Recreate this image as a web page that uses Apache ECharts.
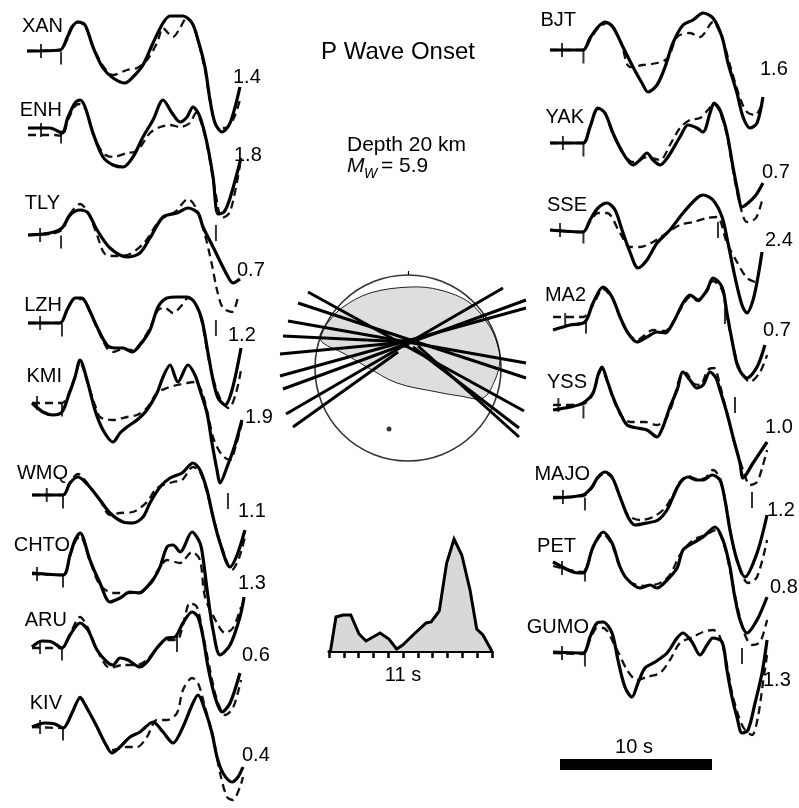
<!DOCTYPE html>
<html lang="en">
<head>
<meta charset="UTF-8">
<title>P Wave Onset</title>
<script src="https://cdn.jsdelivr.net/npm/echarts@6/dist/echarts.min.js"></script>
</head>
<body style="margin:0;background:#fff">
<div id="main" style="width:799px;height:808px;"></div>
<script>
// ---- data: [time s, relative amplitude] ----
// left column
const xanObs = [[0,0],[2.17,1],[2.63,13],[2.96,24],[3.36,29],[3.82,26],[4.34,4],[5.0,-17],[5.66,-27],[6.45,-32],[6.97,-26],[7.63,-14],[8.29,8],[8.95,28],[9.41,35],[10.26,35],[10.86,28],[11.25,11],[11.71,-16],[12.04,-49],[12.37,-72],[12.83,-81],[13.36,-72],[14.01,-36]];
const xanSyn = [[0,0],[2.17,1],[2.63,11],[2.96,23],[3.36,29],[3.82,25],[4.34,5],[5.0,-15],[5.66,-24],[6.58,-19],[7.24,-17],[7.89,-9],[8.55,8],[8.95,23],[9.28,18],[9.61,14],[10.07,23],[10.46,32],[10.86,28],[11.25,11],[11.71,-19],[12.04,-49],[12.5,-76],[13.03,-77],[13.55,-69],[14.01,-49]];
const enhObs = [[0.07,2],[1.51,2],[2.3,-3],[2.7,13],[3.16,27],[3.49,30],[3.82,23],[4.34,-3],[5.0,-27],[5.66,-35],[6.32,-37],[6.97,-27],[7.63,-7],[8.29,10],[8.95,30],[9.54,17],[10.07,8],[10.53,13],[10.92,23],[11.38,13],[11.84,-13],[12.24,-47],[12.57,-84],[12.96,-82],[13.36,-68],[14.08,-28]];
const enhSyn = [[0.07,-5],[1.84,-5],[2.3,-6],[2.7,10],[3.16,24],[3.49,26],[3.88,20],[4.34,-3],[5.0,-23],[5.66,-27],[6.58,-23],[7.24,-21],[8.09,-3],[8.75,3],[9.41,5],[10.07,3],[10.72,7],[11.12,17],[11.51,5],[11.91,-20],[12.37,-60],[12.83,-88],[13.36,-82],[14.01,-35]];
const tlyObs = [[0.07,0],[1.51,2],[2.3,7],[2.83,20],[3.49,25],[4.01,22],[4.61,5],[5.46,-13],[6.58,-22],[7.43,-18],[8.09,-3],[8.95,18],[9.87,22],[10.59,27],[11.25,22],[11.58,8],[12.24,-12],[13.16,-40],[13.55,-48],[14.01,-44]];
const tlySyn = [[0.07,0],[1.51,1],[2.3,5],[2.83,21],[3.49,31],[4.01,23],[4.61,0],[5.13,-19],[5.92,-21],[6.78,-19],[7.76,-7],[8.75,15],[9.74,23],[10.59,36],[11.12,27],[11.71,0],[12.17,-30],[12.5,-55],[12.89,-73],[13.49,-77],[13.88,-62]];
const lzhObs = [[0.07,0],[2.17,0],[2.63,13],[3.16,25],[3.62,25],[4.01,16],[4.61,-4],[5.26,-22],[5.79,-25],[6.32,-25],[6.91,-29],[7.43,-22],[8.09,-7],[8.62,16],[9.21,25],[9.87,26],[10.53,26],[11.05,20],[11.51,3],[11.91,-30],[12.24,-57],[12.57,-75],[13.03,-82],[13.49,-67],[14.08,-25]];
const lzhSyn = [[0.07,0],[2.17,0],[2.63,12],[3.16,24],[3.62,24],[4.01,15],[4.61,-5],[5.26,-25],[5.66,-29],[6.32,-26],[6.91,-27],[7.43,-21],[8.09,-5],[8.62,13],[9.08,15],[9.61,10],[10.2,18],[10.59,25],[11.05,20],[11.51,1],[11.91,-33],[12.37,-62],[12.83,-79],[13.29,-85],[13.75,-70],[14.08,-47]];
const kmiObs = [[0.33,0],[1.05,-9],[1.71,-12],[2.3,-9],[2.7,6],[3.16,26],[3.49,43],[3.95,23],[4.47,-7],[5.0,-27],[5.66,-39],[6.12,-30],[6.58,-24],[7.24,-17],[7.89,-7],[8.55,10],[8.95,26],[9.41,38],[9.93,21],[10.59,38],[11.05,28],[11.38,13],[11.84,-10],[12.17,-40],[12.5,-67],[12.7,-80],[13.16,-64],[13.68,-42],[14.14,-17]];
const kmiSyn = [[0.33,0],[2.3,0],[2.7,8],[3.16,26],[3.49,41],[3.95,22],[4.47,-2],[4.8,-14],[5.66,-17],[6.58,-14],[7.24,-12],[7.89,-5],[8.55,10],[9.21,15],[9.87,18],[10.53,20],[11.05,21],[11.51,11],[11.91,-12],[12.3,-37],[12.83,-52],[13.36,-57],[13.75,-42],[14.14,-20]];
const wmqObs = [[0.33,0],[2.37,0],[2.83,12],[3.36,18],[4.01,10],[4.8,-5],[5.46,-18],[6.32,-27],[6.97,-28],[7.63,-22],[8.09,-8],[8.75,8],[9.41,17],[10.2,22],[10.92,32],[11.38,25],[11.84,5],[12.24,-22],[12.7,-48],[13.36,-72],[13.82,-60],[14.34,-35]];
const wmqSyn = [[0.33,0],[2.37,0],[2.83,13],[3.36,21],[4.01,11],[4.8,-5],[5.46,-20],[6.12,-18],[6.97,-17],[7.89,-7],[8.55,7],[9.61,13],[10.2,15],[10.92,28],[11.38,23],[11.84,3],[12.3,-25],[12.83,-53],[13.49,-75],[13.95,-63],[14.34,-42]];
const chtoObs = [[0.33,1],[2.37,-1],[2.83,19],[3.16,34],[3.49,41],[4.14,14],[4.8,-9],[5.46,-28],[6.12,-24],[6.78,-18],[7.43,-19],[7.89,-13],[8.29,-6],[8.75,7],[9.21,27],[9.61,29],[10.07,22],[10.86,42],[11.38,31],[11.58,16],[11.91,-23],[12.24,-56],[12.7,-81],[13.36,-71],[14.01,-43],[14.28,-23]];
const chtoSyn = [[0.33,0],[2.37,-1],[2.83,18],[3.16,32],[3.49,38],[4.14,13],[4.8,-11],[5.66,-19],[6.58,-19],[7.43,-18],[8.09,-9],[8.75,7],[9.21,14],[10.07,11],[10.86,22],[11.38,14],[11.71,-23],[12.5,-49],[13.03,-59],[13.55,-54],[14.08,-33]];
const aruObs = [[0.33,0],[0.99,6],[1.64,5],[2.3,-1],[2.83,12],[3.49,24],[4.01,17],[4.61,-3],[5.26,-15],[5.66,-18],[6.12,-11],[6.64,-13],[7.43,-20],[7.89,-15],[8.55,-1],[9.21,9],[9.74,10],[10.26,24],[10.86,35],[11.25,30],[11.58,10],[11.91,-20],[12.37,-50],[12.83,-65],[13.36,-56],[14.01,-26]];
const aruSyn = [[0.33,-1],[2.3,-1],[2.83,13],[3.49,30],[4.01,19],[4.61,-3],[5.46,-21],[6.32,-18],[7.24,-18],[7.89,-13],[8.55,-1],[9.21,7],[9.87,7],[10.26,22],[10.72,44],[11.18,40],[11.58,12],[12.04,-23],[12.5,-53],[13.03,-68],[13.55,-61],[14.08,-33]];
const kivObs = [[0.33,0],[1.18,4],[1.84,3],[2.37,-1],[2.96,14],[3.49,29],[4.01,17],[4.61,0],[5.13,-16],[5.59,-26],[6.12,-20],[6.78,-10],[7.43,-5],[8.29,5],[8.95,-5],[9.61,-16],[10.26,0],[10.86,22],[11.25,32],[11.71,17],[12.17,-6],[12.5,-30],[12.89,-46],[13.49,-55],[13.88,-50],[14.21,-40]];
const kivSyn = [[0.33,0],[2.37,-1],[2.96,14],[3.49,30],[4.01,17],[4.61,0],[5.13,-16],[5.59,-23],[6.58,-20],[7.24,-20],[7.89,-10],[8.55,7],[9.21,7],[9.87,14],[10.26,37],[10.86,49],[11.25,44],[11.71,20],[12.24,-10],[12.7,-46],[13.16,-70],[13.55,-73],[14.01,-60],[14.21,-50]];
// right column
const bjtObs = [[0,0],[2.17,0],[2.63,12],[3.16,23],[3.62,28],[4.14,23],[4.8,3],[5.46,-17],[6.05,-33],[6.45,-42],[7.04,-35],[7.57,-17],[8.09,7],[8.75,25],[9.41,30],[10.07,37],[10.72,32],[11.32,13],[11.71,-13],[12.3,-43],[12.7,-67],[13.16,-78],[13.62,-73],[14.01,-47]];
const bjtSyn = [[0,0],[2.17,0],[2.63,10],[3.16,22],[3.75,27],[4.61,10],[5.26,-17],[6.12,-15],[7.04,-13],[7.76,-8],[8.36,13],[9.21,17],[9.87,13],[10.72,28],[11.32,12],[11.84,-15],[12.5,-48],[12.96,-62],[13.49,-65],[14.01,-52]];
const yakObs = [[0,0],[2.17,0],[2.63,16],[3.16,35],[3.62,30],[4.14,10],[4.8,-10],[5.46,-22],[5.92,-17],[6.38,-10],[6.78,-17],[7.24,-22],[7.76,-14],[8.55,6],[9.08,18],[9.67,15],[10.07,11],[10.53,30],[10.79,40],[11.18,33],[11.64,10],[12.04,-24],[12.37,-50],[12.63,-64],[13.03,-60],[13.55,-52],[14.01,-40]];
const yakSyn = [[0,0],[2.17,0],[2.63,16],[3.16,34],[3.62,29],[4.14,9],[4.8,-10],[5.46,-19],[6.38,-14],[7.24,-17],[7.89,-2],[8.55,15],[9.21,23],[9.87,25],[10.39,33],[10.79,39],[11.18,31],[11.64,8],[12.04,-27],[12.5,-62],[12.96,-79],[13.55,-75],[14.01,-54]];
const sseObs = [[0,0],[2.17,-2],[2.63,10],[3.16,22],[3.75,27],[4.28,20],[4.74,0],[5.26,-22],[5.79,-38],[6.38,-30],[7.04,-13],[7.89,0],[8.75,17],[9.67,32],[10.07,35],[10.72,30],[11.32,13],[11.71,-13],[12.17,-47],[12.63,-75],[12.96,-83],[13.36,-70],[13.68,-47],[13.95,-22]];
const sseSyn = [[0,0],[2.17,-2],[2.63,8],[3.16,17],[3.75,17],[4.61,-3],[5.26,-17],[5.92,-17],[6.78,-12],[7.7,-3],[8.55,5],[9.41,8],[10.33,12],[10.99,13],[11.64,-13],[12.3,-32],[12.96,-48],[13.49,-52]];
const ma2Obs = [[0.2,-10],[1.32,-5],[2.3,-2],[2.83,17],[3.49,33],[4.08,23],[4.61,3],[5.13,-13],[5.72,-22],[6.38,-17],[7.04,-12],[7.57,-13],[8.09,-3],[8.75,17],[9.21,25],[9.74,20],[10.33,30],[10.72,42],[11.32,33],[11.64,7],[11.97,-20],[12.37,-47],[12.96,-58],[13.62,-47],[14.14,-25]];
const ma2Syn = [[0.2,3],[2.17,3],[2.83,15],[3.49,31],[4.08,22],[4.61,2],[5.13,-13],[5.72,-20],[6.78,-10],[7.57,-11],[8.09,-2],[8.75,15],[9.21,23],[9.74,19],[10.33,29],[10.72,39],[11.32,30],[11.64,4],[12.04,-25],[12.5,-50],[13.16,-62],[13.82,-52],[14.28,-35]];
const yssObs = [[0.2,-5],[1.32,-2],[2.17,2],[2.83,12],[3.16,30],[3.42,38],[3.75,25],[4.14,8],[4.61,-8],[5.07,-20],[5.72,-23],[6.38,-25],[7.04,-32],[7.43,-22],[7.89,-2],[8.36,15],[8.75,33],[9.21,25],[9.67,17],[10.07,20],[10.53,33],[10.92,27],[11.18,15],[11.64,-8],[12.04,-32],[12.5,-58],[12.7,-73],[13.36,-58],[14.28,-37]];
const yssSyn = [[0.2,0],[2.17,1],[2.83,11],[3.16,29],[3.42,36],[3.75,24],[4.14,7],[4.61,-9],[5.26,-17],[6.25,-17],[7.04,-20],[7.57,-15],[8.03,0],[8.55,27],[8.95,32],[9.41,22],[9.87,20],[10.39,35],[10.79,37],[11.18,20],[11.64,-8],[12.17,-40],[12.7,-65],[13.16,-80],[13.62,-77],[14.01,-60],[14.28,-45]];
const majoObs = [[0.2,-1],[2.17,2],[2.76,10],[3.16,20],[3.62,25],[4.08,20],[4.61,0],[5.13,-20],[5.59,-28],[6.38,-26],[7.11,-23],[7.7,-13],[8.09,0],[8.55,14],[9.08,20],[9.67,17],[10.07,17],[10.66,22],[11.18,17],[11.51,-3],[11.84,-33],[12.3,-63],[12.83,-80],[13.62,-56],[14.28,-18]];
const majoSyn = [[0.2,0],[2.17,1],[2.76,9],[3.16,19],[3.62,24],[4.08,19],[4.61,0],[5.13,-18],[5.92,-23],[6.78,-20],[7.57,-11],[8.09,2],[8.55,15],[9.08,21],[9.67,18],[10.2,19],[10.72,27],[11.18,19],[11.58,-8],[11.97,-43],[12.5,-73],[13.03,-86],[13.62,-80],[14.28,-43]];
const petObs = [[0.2,6],[1.51,-4],[2.17,-5],[2.83,21],[3.49,36],[4.08,25],[4.61,1],[5.07,-11],[5.92,-20],[6.58,-17],[7.04,-20],[7.7,-12],[8.36,0],[8.75,18],[9.41,25],[10.07,31],[10.86,41],[11.38,28],[11.84,1],[12.11,-25],[12.5,-52],[12.96,-65],[13.62,-52],[14.28,-29]];
const petSyn = [[0.2,2],[2.17,-4],[2.83,20],[3.49,34],[4.08,23],[4.61,0],[5.26,-14],[6.25,-18],[7.24,-15],[7.89,-7],[8.55,13],[9.41,28],[10.2,33],[10.92,38],[11.45,23],[11.91,-7],[12.3,-37],[12.83,-67],[13.29,-77],[13.82,-74],[14.28,-52]];
const gumoObs = [[0.2,1],[2.17,0],[2.63,16],[3.09,30],[3.49,31],[4.08,20],[4.47,-7],[4.93,-34],[5.39,-44],[5.79,-30],[6.25,-15],[6.91,-9],[7.7,0],[8.36,15],[8.75,20],[9.34,11],[9.87,-2],[10.33,8],[10.72,15],[11.32,11],[11.64,-17],[11.97,-44],[12.3,-64],[12.63,-80],[13.03,-77],[13.49,-50],[13.95,-20],[14.28,13]];
const gumoSyn = [[0.2,0],[2.17,-1],[2.63,13],[3.09,25],[3.49,25],[4.41,3],[5.07,-17],[5.72,-27],[6.38,-24],[7.24,-20],[7.89,-7],[8.55,10],[9.41,16],[10.07,21],[10.72,23],[11.18,16],[11.64,-12],[12.04,-44],[12.7,-74],[13.29,-82],[13.68,-64],[14.01,-30],[14.28,-2]];

const stations = ['XAN','ENH','TLY','LZH','KMI','WMQ','CHTO','ARU','KIV','BJT','YAK','SSE','MA2','YSS','MAJO','PET','GUMO'];
const amplitudes = ['1.4','1.8','0.7','1.2','1.9','1.1','1.3','0.6','0.4','1.6','0.7','2.4','0.7','1.0','1.2','0.8','1.3'];
const observed = [xanObs,enhObs,tlyObs,lzhObs,kmiObs,wmqObs,chtoObs,aruObs,kivObs,bjtObs,yakObs,sseObs,ma2Obs,yssObs,majoObs,petObs,gumoObs];
const synthetic = [xanSyn,enhSyn,tlySyn,lzhSyn,kmiSyn,wmqSyn,chtoSyn,aruSyn,kivSyn,bjtSyn,yakSyn,sseSyn,ma2Syn,yssSyn,majoSyn,petSyn,gumoSyn];
// onset picks (s) and end-of-window marks [s, amp]
const plusPick = [0.92,0.92,0.86,0.86,0.66,1.3,0.66,0.86,0.86,0.79,0.85,0.66,1.0,0.55,0.85,0.79,0.79];
const onsetPick = [2.24,2.24,2.24,2.3,2.3,2.37,2.37,2.3,2.37,2.2,2.2,2.2,2.37,2.2,2.3,2.3,2.3];
const endMarks = [null,null,[12.43,2],[12.43,-5],null,[13.22,-6],[11.7,-10],[9.87,3],null,null,null,[11.05,0],[11.51,4],[12.17,0],[13.29,-3],null,[12.63,-3]];

// source time function
const stfTime = [0.1,0.47,0.95,1.47,2.03,2.5,3.45,4.05,4.57,4.98,5.68,6.56,6.9,7.3,7.45,7.95,8.45,8.97,9.53,9.98,10.4,11.0];
const stfRate = [0,34,36,36,17,10,18,12,2,6,16,28,29,37,40,88,112,96,61,22,16,0];

// focal sphere (offsets, radius about 93)
const shadedLobe = [[2,81],[32,78],[62,65],[82,41],[89,25],[92,8],[87,-12],[75,-30],[52,-28],[29,-24],[-11,-15],[-41,1],[-65,15],[-85,25],[-88,33],[-78,48],[-65,61],[-38,75]];
const rays = [[-100,76,116,-43],[-110,65,118,-10],[-120,47,118,5],[-125,32,-1,26],[-128,14,-1,26],[-128,-8,118,60],[-125,-21,118,68],[-122,-46,95,80],[-115,-59,-10,16],[5,21,111,-60],[10,22,111,-69]];
const focalDots = [[-3,25],[-19,-61]];

// ---- layout ----
const PX_PER_S = 15.2;
const traceLayout = [[27,51],[27,130],[27,235],[27,323],[27,403],[27,495],[27,574],[27,647],[27,727],
  [550,50],[550,143],[550,230],[550,320],[550,405],[550,497],[550,568],[550,653]];
const labelPos = [[63,26],[62,110],[60,203],[62,305],[62,376],[68,473],[70,545],[67,620],[62,703],
  [576,20],[584,117],[587,205],[586,295],[587,382],[590,474],[576,546],[589,627]];
const ampPos = [[233,77],[234,155],[237,270],[228,335],[245,417],[238,511],[238,583],[242,655],[242,755],
  [760,69],[762,172],[765,240],[763,330],[765,427],[767,510],[770,587],[763,680]];
const FONT = '"Liberation Sans", Arial, Helvetica, sans-serif';

const grids = [], xAxes = [], yAxes = [], series = [], graphics = [];
function addGrid(rect, xa, ya) {
    grids.push(Object.assign({outerBoundsMode: 'none', containLabel: false}, rect));
    const gi = grids.length - 1;
    xAxes.push(Object.assign({gridIndex: gi, type: 'value', show: false}, xa));
    yAxes.push(Object.assign({gridIndex: gi, type: 'value', show: false}, ya));
    return gi;
}

stations.forEach(function (name, i) {
    const gl = traceLayout[i][0], base = traceLayout[i][1];
    const gi = addGrid({left: gl, top: base - 100, width: 15 * PX_PER_S, height: 200},
        {min: 0, max: 15}, {min: -100, max: 100});
    series.push({
        type: 'line', xAxisIndex: gi, yAxisIndex: gi, data: synthetic[i],
        smooth: 0.3, symbol: 'none', silent: true,
        lineStyle: {color: '#111', width: 2.3, type: [8, 5]}
    });
    series.push({
        type: 'line', xAxisIndex: gi, yAxisIndex: gi, data: observed[i],
        smooth: 0.3, symbol: 'none', silent: true,
        lineStyle: {color: '#000', width: 3.2}
    });
    const marks = [
        {value: [plusPick[i], 0], symbolSize: [2, 14]},
        {value: [onsetPick[i], 0], symbolSize: [2, 13], symbolOffset: [0, 7]}
    ];
    if (endMarks[i]) marks.push({value: endMarks[i], symbolSize: [2, 16]});
    series.push({
        type: 'scatter', xAxisIndex: gi, yAxisIndex: gi, data: marks,
        symbol: 'rect', silent: true, itemStyle: {color: '#000'}
    });
    graphics.push({
        type: 'text', x: labelPos[i][0], y: labelPos[i][1],
        style: {text: name, fontSize: 20, fontFamily: FONT, fill: '#000', textAlign: 'right', textVerticalAlign: 'middle'}
    });
    graphics.push({
        type: 'text', x: ampPos[i][0], y: ampPos[i][1],
        style: {text: amplitudes[i], fontSize: 20, fontFamily: FONT, fill: '#000', textAlign: 'left', textVerticalAlign: 'middle'}
    });
});

// focal mechanism
const fi = addGrid({left: 268, top: 228, width: 280, height: 280}, {min: -140, max: 140}, {min: -140, max: 140});
series.push({
    type: 'custom', xAxisIndex: fi, yAxisIndex: fi, data: [[0, 0]], silent: true,
    renderItem: function (params, api) {
        return {
            type: 'polygon',
            shape: {points: shadedLobe.map(function (p) { return api.coord(p); }), smooth: 0.35},
            style: {fill: '#dedede', stroke: '#222', lineWidth: 1}
        };
    }
});
series.push({
    type: 'scatter', xAxisIndex: fi, yAxisIndex: fi, data: [[0, 0]], silent: true,
    symbol: 'circle', symbolSize: 186,
    itemStyle: {color: 'rgba(0,0,0,0)', borderColor: '#000', borderWidth: 1.6}
});
series.push({
    type: 'lines', coordinateSystem: 'cartesian2d', xAxisIndex: fi, yAxisIndex: fi, silent: true,
    data: rays.map(function (r) { return {coords: [[r[0], r[1]], [r[2], r[3]]]}; })
        .concat([{coords: [[0, 93], [0, 97]], lineStyle: {width: 1.2}}]),
    lineStyle: {color: '#000', width: 3, opacity: 1}
});
series.push({
    type: 'scatter', xAxisIndex: fi, yAxisIndex: fi, silent: true,
    data: [{value: focalDots[0], symbolSize: 10}, {value: focalDots[1], symbolSize: 5}],
    itemStyle: {color: '#000'}
});

// source time function
const si = addGrid({left: 329, top: 531, width: 11 * 14.8, height: 120},
    {min: 0, max: 11, interval: 1, show: true,
        axisLine: {show: true, lineStyle: {color: '#000', width: 3}},
        axisTick: {show: true, length: 7, lineStyle: {color: '#000', width: 2.5}},
        axisLabel: {show: false}, splitLine: {show: false}},
    {min: 0, max: 120});
series.push({
    type: 'line', xAxisIndex: si, yAxisIndex: si, silent: true, symbol: 'none',
    data: stfTime.map(function (t, k) { return [t, stfRate[k]]; }),
    lineStyle: {color: '#000', width: 3, join: 'miter'},
    areaStyle: {color: '#d8d8d8', opacity: 1}
});

// 10 s scale bar
const bi = addGrid({left: 560, top: 759, width: 10 * PX_PER_S, height: 11}, {min: 0, max: 10}, {min: -1, max: 1});
series.push({
    type: 'line', xAxisIndex: bi, yAxisIndex: bi, silent: true, symbol: 'none',
    data: [[0, 0], [10, 0]], lineStyle: {color: '#000', width: 11, cap: 'butt'}
});

// texts
function txt(x, y, text, size, align, style) {
    graphics.push({type: 'text', x: x, y: y,
        style: {text: text, fontSize: size, fontFamily: FONT, fontStyle: style || 'normal', fill: '#000',
            textAlign: align || 'center', textVerticalAlign: 'middle'}});
}
txt(398, 52, 'P Wave Onset', 24);
txt(347, 145, 'Depth 20 km', 21, 'left');
txt(347, 166, 'M', 21, 'left', 'italic');
txt(364, 174, 'W', 14, 'left', 'italic');
txt(381, 166, '= 5.9', 21, 'left');
txt(403, 675, '11 s', 20);
txt(634, 747, '10 s', 20);

const myChart = echarts.init(document.getElementById('main'), null, {renderer: 'canvas'});
myChart.setOption({
    animation: false,
    backgroundColor: '#fff',
    grid: grids,
    xAxis: xAxes,
    yAxis: yAxes,
    series: series,
    graphic: graphics
});
</script>
</body>
</html>
